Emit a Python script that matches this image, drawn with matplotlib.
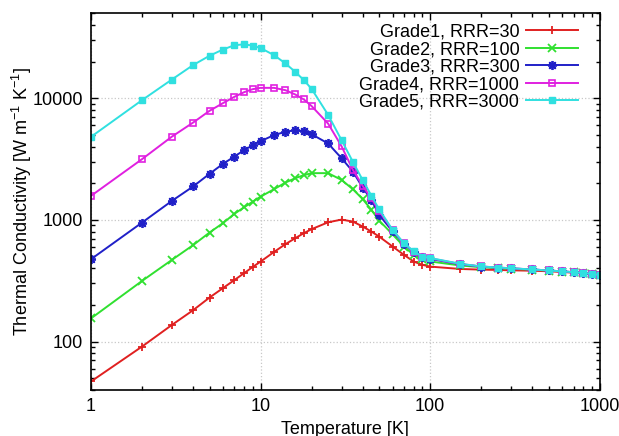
import matplotlib
matplotlib.use("Agg")
import matplotlib.pyplot as plt
from matplotlib.ticker import LogLocator, FuncFormatter, NullFormatter

# Thermal conductivity of copper grades (W m^-1 K^-1) vs temperature (K)
temperature = [1, 2, 3, 4, 5, 6, 7, 8, 9, 10, 12, 14, 16, 18, 20, 25, 30, 35, 40, 45,
               50, 60, 70, 80, 90, 100, 150, 200, 250, 300, 400, 500, 600, 700, 800, 900, 1000]

grade1 = [47, 91, 137, 181, 230, 275, 320, 365, 411, 454, 545, 631, 707, 778, 839, 955, 1005, 968,
          881, 801, 729, 604, 516, 454, 427, 413, 395, 390, 388, 385, 382, 378, 373, 368, 362, 357, 350]
grade2 = [155, 315, 469, 620, 787, 940, 1120, 1270, 1413, 1552, 1785, 2024, 2200, 2330, 2420, 2420,
          2130, 1785, 1480, 1208, 987, 760, 604, 515, 475, 455, 422, 408, 401, 396, 390, 383, 376,
          371, 365, 359, 351]
grade3 = [475, 950, 1432, 1880, 2390, 2884, 3310, 3740, 4110, 4430, 4970, 5290, 5460, 5350, 5050,
          4245, 3210, 2495, 1840, 1459, 1099, 805, 635, 545, 495, 478, 432, 413, 405, 399, 391, 384,
          377, 371, 365, 359, 351]
grade4 = [1574, 3155, 4830, 6300, 7870, 9100, 10250, 11200, 11860, 12150, 12150, 11630, 10720, 9750,
          8600, 6180, 4030, 2575, 1900, 1500, 1180, 820, 640, 548, 497, 483, 434, 414, 406, 400, 391,
          384, 377, 372, 366, 360, 352]
grade5 = [4810, 9630, 14230, 18700, 22300, 25100, 27200, 27700, 27000, 25800, 22560, 19300, 16450,
          14060, 11900, 7300, 4520, 3000, 2120, 1580, 1220, 828, 643, 550, 499, 486, 436, 414, 406,
          400, 391, 384, 377, 372, 366, 360, 352]

labels = ["Grade1, RRR=30", "Grade2, RRR=100", "Grade3, RRR=300",
          "Grade4, RRR=1000", "Grade5, RRR=3000"]

plt.rcParams["font.family"] = ["Liberation Sans", "DejaVu Sans"]
plt.rcParams["mathtext.fontset"] = "custom"
plt.rcParams["mathtext.rm"] = "Liberation Sans"
plt.rcParams["mathtext.it"] = "Liberation Sans:italic"

fig = plt.figure(figsize=(6.19, 4.36), dpi=100)
ax = fig.add_axes([0.147, 0.1055, 0.822, 0.8645])

styles = [
    dict(color="#e02020", marker="+", ms=6, mew=1.3),
    dict(color="#30e030", marker="x", ms=5.5, mew=1.3),
    dict(color="#2020c8", marker=(8, 2, 0), ms=6.5, mew=1.3),
    dict(color="#e020e0", marker="s", ms=5, mew=1.2, mfc="none"),
    dict(color="#30e0e0", marker="s", ms=5, mew=1.0),
]
series = [grade1, grade2, grade3, grade4, grade5]
for vals, lab, st in zip(series, labels, styles):
    ax.plot(temperature, vals, lw=1.4, label=lab, **st)

ax.set_xscale("log")
ax.set_yscale("log")
ax.set_xlim(1, 1000)
ax.set_ylim(40, 50000)

fmt = FuncFormatter(lambda v, p: "%d" % v)
ax.xaxis.set_major_locator(LogLocator(base=10))
ax.xaxis.set_major_formatter(fmt)
ax.xaxis.set_minor_locator(LogLocator(base=10, subs=range(2, 10)))
ax.xaxis.set_minor_formatter(NullFormatter())
ax.yaxis.set_major_locator(LogLocator(base=10))
ax.yaxis.set_major_formatter(fmt)
ax.yaxis.set_minor_locator(LogLocator(base=10, subs=range(2, 10)))
ax.yaxis.set_minor_formatter(NullFormatter())

ax.tick_params(which="both", direction="in", top=True, right=True, labelsize=13, width=1)
ax.tick_params(which="major", length=5, pad=6)
ax.tick_params(which="minor", length=3)
for sp in ax.spines.values():
    sp.set_linewidth(1.2)

ax.grid(True, which="major", color="#c8c8c8", linestyle=":", linewidth=0.9)

ax.set_xlabel("Temperature [K]", fontsize=13, labelpad=4)
ax.set_ylabel(r"Thermal Conductivity [W m$^{-1}$ K$^{-1}$]", fontsize=13, labelpad=-1)

ax.legend(loc="upper right", bbox_to_anchor=(0.957, 0.972), frameon=False, markerfirst=False,
          fontsize=13, handlelength=2.9, handletextpad=0.35, labelspacing=0.03,
          borderaxespad=0, borderpad=0)

plt.savefig("out.png", dpi=100)
plt.close()
